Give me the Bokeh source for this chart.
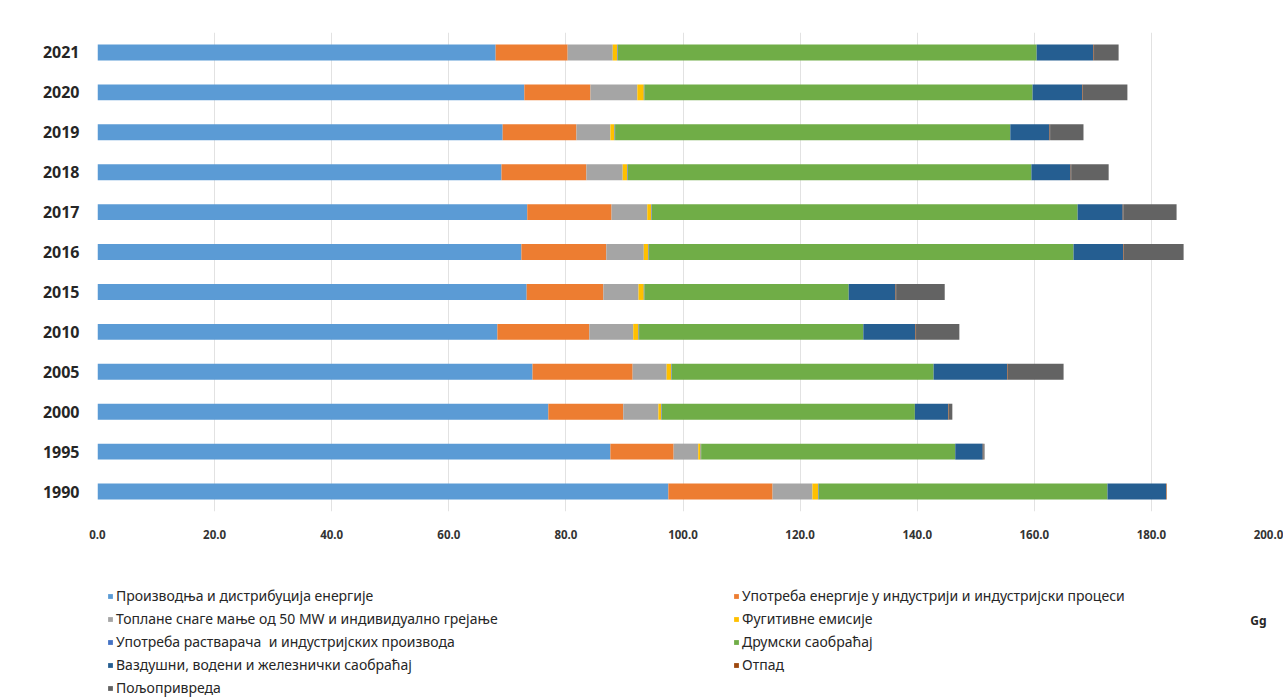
from bokeh.plotting import figure
from bokeh.layouts import column
from bokeh.models import (Legend, LegendItem, Label, FactorRange, Range1d, ColumnDataSource,
                          FixedTicker, CustomJSTickFormatter)
from bokeh.embed import file_html
from bokeh.resources import INLINE

years = ["1990", "1995", "2000", "2005", "2010", "2015", "2016", "2017", "2018", "2019", "2020", "2021"]
energy = [97.5, 87.6, 77.0, 74.3, 68.3, 73.3, 72.4, 73.4, 69.0, 69.2, 72.9, 68.0]
industry = [17.8, 10.8, 12.8, 17.1, 15.7, 13.1, 14.5, 14.4, 14.5, 12.6, 11.3, 12.3]
heating = [6.8, 4.2, 6.0, 5.8, 7.5, 6.0, 6.4, 6.1, 6.2, 5.8, 8.0, 7.7]
fugitive = [1.0, 0.4, 0.5, 0.8, 0.9, 0.9, 0.8, 0.7, 0.8, 0.7, 1.1, 0.8]
solvents = [0.1, 0.1, 0.1, 0.1, 0.1, 0.1, 0.1, 0.1, 0.1, 0.1, 0.1, 0.1]
road = [49.3, 43.4, 43.2, 44.7, 38.3, 34.9, 72.5, 72.7, 68.9, 67.5, 66.3, 71.5]
transport = [10.0, 4.7, 5.7, 12.6, 8.9, 8.0, 8.5, 7.7, 6.7, 6.7, 8.5, 9.7]
waste = [0.1, 0.1, 0.1, 0.1, 0.1, 0.1, 0.1, 0.1, 0.1, 0.1, 0.1, 0.1]
agriculture = [0.0, 0.2, 0.6, 9.5, 7.4, 8.3, 10.2, 9.1, 6.4, 5.7, 7.6, 4.2]

keys = ["energy", "industry", "heating", "fugitive", "solvents", "road", "transport", "waste", "agriculture"]
names = [
    "Производња и дистрибуција енергије",
    "Употреба енергије у индустрији и индустријски процеси",
    "Топлане снаге мање од 50 MW и индивидуално грејање",
    "Фугитивне емисије",
    "Употреба растварача  и индустријских производа",
    "Друмски саобраћај",
    "Ваздушни, водени и железнички саобраћај",
    "Отпад",
    "Пољопривреда",
]
colors = ["#5B9BD5", "#ED7D31", "#A5A5A5", "#FFC000", "#4472C4", "#70AD47", "#255E91", "#9E480E", "#636363"]
x_ticks = [0, 20, 40, 60, 80, 100, 120, 140, 160, 180, 200]
unit = "Gg"

source = ColumnDataSource(dict(
    years=years, energy=energy, industry=industry, heating=heating, fugitive=fugitive,
    solvents=solvents, road=road, transport=transport, waste=waste, agriculture=agriculture,
))

FONT = "Noto Sans"
TEXT = "#262626"

# ---- main chart ----
p = figure(
    y_range=FactorRange(factors=years), x_range=Range1d(0, 200),
    frame_width=1171, frame_height=479,
    min_border_left=97, min_border_right=15, min_border_top=32, min_border_bottom=40,
    output_backend="svg", toolbar_location=None,
)
p.hbar_stack(keys, y="years", height=0.4, color=colors, source=source, line_width=0)

p.outline_line_color = None
p.ygrid.grid_line_color = None
p.xgrid.grid_line_color = "#E2E2E2"
p.xgrid.ticker = FixedTicker(ticks=x_ticks)

p.xaxis.ticker = FixedTicker(ticks=x_ticks)
p.xaxis.formatter = CustomJSTickFormatter(code="return tick.toFixed(1);")
p.xaxis.axis_line_color = None
p.xaxis.major_tick_line_color = None
p.xaxis.minor_tick_line_color = None
p.xaxis.major_label_standoff = 12
p.xaxis.major_label_text_font = FONT
p.xaxis.major_label_text_font_style = "bold"
p.xaxis.major_label_text_font_size = "11.5px"
p.xaxis.major_label_text_color = "#333333"

p.yaxis.axis_line_color = None
p.yaxis.major_tick_line_color = None
p.yaxis.minor_tick_line_color = None
p.yaxis.major_label_standoff = 12
p.yaxis.major_label_text_font = FONT
p.yaxis.major_label_text_font_style = "bold"
p.yaxis.major_label_text_font_size = "16px"
p.yaxis.major_label_text_color = TEXT

# ---- legend area (its swatches come from hidden copies of the same stacks) ----
q = figure(
    y_range=FactorRange(factors=years), x_range=Range1d(0, 200),
    width=1283, height=146,
    min_border_left=0, min_border_right=0, min_border_top=0, min_border_bottom=0,
    output_backend="svg", toolbar_location=None,
)
q.axis.visible = False
q.grid.visible = False
q.outline_line_color = None
swatches = q.hbar_stack(keys, y="years", height=0.4, color=colors, source=source, line_width=0)
for r in swatches:
    r.visible = False

order = [0, 2, 4, 6, 8, 1, 3, 5, 7]
items = [LegendItem(label=names[i], renderers=[swatches[i]]) for i in order]
legend = Legend(
    items=items, orientation="vertical", nrows=5, ncols=2,
    location=(10, 0), margin=0, padding=0, spacing=4,
    glyph_width=6, glyph_height=6, label_height=16, label_width=613, label_standoff=3,
    label_text_font=FONT, label_text_font_size="14px", label_text_color=TEXT,
    border_line_color=None, background_fill_alpha=0, inactive_fill_alpha=0,
)
q.add_layout(legend, "center")

q.add_layout(Label(x=1169, y=77, x_units="screen", y_units="screen", text=unit,
                   text_font=FONT, text_font_style="bold", text_font_size="12px",
                   text_color=TEXT, text_baseline="middle", text_align="right"))

layout = column(p, q, spacing=0)
open("out.html", "w").write(file_html(layout, INLINE))
